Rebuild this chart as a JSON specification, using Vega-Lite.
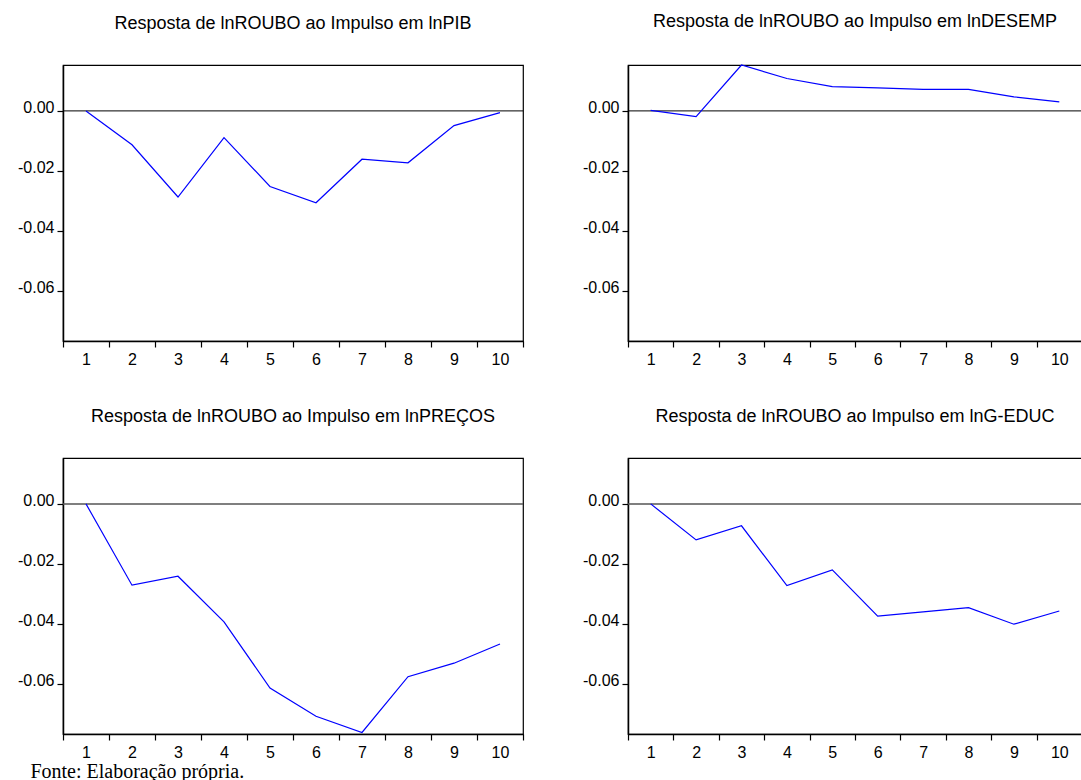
{
  "$schema": "https://vega.github.io/schema/vega-lite/v6.json",
  "usermeta": {"embedOptions": {"actions": false}},
  "background": "white",
  "padding": {"left": 12, "top": 12, "right": 0, "bottom": 0},
  "config": {
    "font": "Liberation Sans",
    "view": {"stroke": "black", "strokeWidth": 1.2},
    "axis": {"labelFont": "Liberation Sans", "labelFontSize": 16, "labelColor": "black", "domainColor": "black", "domainWidth": 1.5, "tickColor": "black", "tickWidth": 1.2, "tickSize": 6, "grid": false, "title": null},
    "title": {"font": "Liberation Sans", "fontSize": 18, "fontWeight": "normal", "color": "black", "offset": 32}
  },
  "datasets": {
    "irf": [
      {"shock": "lnPIB", "period": 1, "response": 0.0},
      {"shock": "lnPIB", "period": 2, "response": -0.0113},
      {"shock": "lnPIB", "period": 3, "response": -0.0287},
      {"shock": "lnPIB", "period": 4, "response": -0.0089},
      {"shock": "lnPIB", "period": 5, "response": -0.0252},
      {"shock": "lnPIB", "period": 6, "response": -0.0306},
      {"shock": "lnPIB", "period": 7, "response": -0.0161},
      {"shock": "lnPIB", "period": 8, "response": -0.0173},
      {"shock": "lnPIB", "period": 9, "response": -0.0049},
      {"shock": "lnPIB", "period": 10, "response": -0.0006},
      {"shock": "lnDESEMP", "period": 1, "response": 0.0002},
      {"shock": "lnDESEMP", "period": 2, "response": -0.0019},
      {"shock": "lnDESEMP", "period": 3, "response": 0.0153},
      {"shock": "lnDESEMP", "period": 4, "response": 0.0108},
      {"shock": "lnDESEMP", "period": 5, "response": 0.0081},
      {"shock": "lnDESEMP", "period": 6, "response": 0.0077},
      {"shock": "lnDESEMP", "period": 7, "response": 0.0072},
      {"shock": "lnDESEMP", "period": 8, "response": 0.0072},
      {"shock": "lnDESEMP", "period": 9, "response": 0.0047},
      {"shock": "lnDESEMP", "period": 10, "response": 0.0030},
      {"shock": "lnPREÇOS", "period": 1, "response": 0.0},
      {"shock": "lnPREÇOS", "period": 2, "response": -0.0271},
      {"shock": "lnPREÇOS", "period": 3, "response": -0.0241},
      {"shock": "lnPREÇOS", "period": 4, "response": -0.0393},
      {"shock": "lnPREÇOS", "period": 5, "response": -0.0614},
      {"shock": "lnPREÇOS", "period": 6, "response": -0.0708},
      {"shock": "lnPREÇOS", "period": 7, "response": -0.0762},
      {"shock": "lnPREÇOS", "period": 8, "response": -0.0576},
      {"shock": "lnPREÇOS", "period": 9, "response": -0.0531},
      {"shock": "lnPREÇOS", "period": 10, "response": -0.0467},
      {"shock": "lnG-EDUC", "period": 1, "response": 0.0},
      {"shock": "lnG-EDUC", "period": 2, "response": -0.0120},
      {"shock": "lnG-EDUC", "period": 3, "response": -0.0073},
      {"shock": "lnG-EDUC", "period": 4, "response": -0.0272},
      {"shock": "lnG-EDUC", "period": 5, "response": -0.0220},
      {"shock": "lnG-EDUC", "period": 6, "response": -0.0374},
      {"shock": "lnG-EDUC", "period": 7, "response": -0.0360},
      {"shock": "lnG-EDUC", "period": 8, "response": -0.0346},
      {"shock": "lnG-EDUC", "period": 9, "response": -0.0401},
      {"shock": "lnG-EDUC", "period": 10, "response": -0.0357}
    ]
  },
  "title": {"text": "Fonte: Elaboração própria.", "orient": "bottom", "anchor": "start", "font": "Liberation Serif", "fontSize": 20, "fontWeight": "normal", "dx": 18, "offset": -3},
  "spacing": 35,
  "vconcat": [
    {
      "spacing": 52,
      "hconcat": [
        {
          "width": 460, "height": 276,
          "title": "Resposta de lnROUBO ao Impulso em lnPIB",
          "layer": [
            {"data": {"values": [{"ref": 0}]}, "mark": {"type": "rule", "color": "black", "strokeWidth": 1}, "encoding": {"y": {"field": "ref", "type": "quantitative", "scale": {"domain": [-0.0767, 0.0153], "nice": false, "zero": false}, "axis": {"values": [0, -0.02, -0.04, -0.06], "labelExpr": "replace(format(datum.value, '.2f'), '\u2212', '-')", "labelBaseline": "alphabetic", "labelOffset": 2, "labelPadding": 3, "minExtent": 50, "maxExtent": 50}}}},
            {"data": {"name": "irf"}, "transform": [{"filter": "datum.shock == 'lnPIB'"}], "mark": {"type": "line", "color": "#0000ff", "strokeWidth": 1.2}, "encoding": {
              "x": {"field": "period", "type": "ordinal", "bandPosition": 0.5, "scale": {"type": "band", "paddingInner": 0, "paddingOuter": 0}, "axis": {"labelAngle": 0, "tickBand": "extent", "labelPadding": 4, "minExtent": 30, "maxExtent": 30}},
              "y": {"field": "response", "type": "quantitative", "scale": {"domain": [-0.0767, 0.0153], "nice": false, "zero": false}, "axis": {"values": [0, -0.02, -0.04, -0.06], "labelExpr": "replace(format(datum.value, '.2f'), '\u2212', '-')", "labelBaseline": "alphabetic", "labelOffset": 2, "labelPadding": 3, "minExtent": 50, "maxExtent": 50}}}}
          ]
        },
        {
          "width": 454, "height": 276,
          "title": "Resposta de lnROUBO ao Impulso em lnDESEMP",
          "layer": [
            {"data": {"values": [{"ref": 0}]}, "mark": {"type": "rule", "color": "black", "strokeWidth": 1}, "encoding": {"y": {"field": "ref", "type": "quantitative", "scale": {"domain": [-0.0767, 0.0153], "nice": false, "zero": false}, "axis": {"values": [0, -0.02, -0.04, -0.06], "labelExpr": "replace(format(datum.value, '.2f'), '\u2212', '-')", "labelBaseline": "alphabetic", "labelOffset": 2, "labelPadding": 3, "minExtent": 50, "maxExtent": 50}}}},
            {"data": {"name": "irf"}, "transform": [{"filter": "datum.shock == 'lnDESEMP'"}], "mark": {"type": "line", "color": "#0000ff", "strokeWidth": 1.2}, "encoding": {
              "x": {"field": "period", "type": "ordinal", "bandPosition": 0.5, "scale": {"type": "band", "paddingInner": 0, "paddingOuter": 0}, "axis": {"labelAngle": 0, "tickBand": "extent", "labelPadding": 4, "minExtent": 30, "maxExtent": 30}},
              "y": {"field": "response", "type": "quantitative", "scale": {"domain": [-0.0767, 0.0153], "nice": false, "zero": false}, "axis": {"values": [0, -0.02, -0.04, -0.06], "labelExpr": "replace(format(datum.value, '.2f'), '\u2212', '-')", "labelBaseline": "alphabetic", "labelOffset": 2, "labelPadding": 3, "minExtent": 50, "maxExtent": 50}}}}
          ]
        }
      ]
    },
    {
      "spacing": 52,
      "hconcat": [
        {
          "width": 460, "height": 276,
          "title": "Resposta de lnROUBO ao Impulso em lnPREÇOS",
          "layer": [
            {"data": {"values": [{"ref": 0}]}, "mark": {"type": "rule", "color": "#555555", "strokeWidth": 1.5}, "encoding": {"y": {"field": "ref", "type": "quantitative", "scale": {"domain": [-0.0767, 0.0153], "nice": false, "zero": false}, "axis": {"values": [0, -0.02, -0.04, -0.06], "labelExpr": "replace(format(datum.value, '.2f'), '\u2212', '-')", "labelBaseline": "alphabetic", "labelOffset": 2, "labelPadding": 3, "minExtent": 50, "maxExtent": 50}}}},
            {"data": {"name": "irf"}, "transform": [{"filter": "datum.shock == 'lnPREÇOS'"}], "mark": {"type": "line", "color": "#0000ff", "strokeWidth": 1.2}, "encoding": {
              "x": {"field": "period", "type": "ordinal", "bandPosition": 0.5, "scale": {"type": "band", "paddingInner": 0, "paddingOuter": 0}, "axis": {"labelAngle": 0, "tickBand": "extent", "labelPadding": 4, "minExtent": 30, "maxExtent": 30}},
              "y": {"field": "response", "type": "quantitative", "scale": {"domain": [-0.0767, 0.0153], "nice": false, "zero": false}, "axis": {"values": [0, -0.02, -0.04, -0.06], "labelExpr": "replace(format(datum.value, '.2f'), '\u2212', '-')", "labelBaseline": "alphabetic", "labelOffset": 2, "labelPadding": 3, "minExtent": 50, "maxExtent": 50}}}}
          ]
        },
        {
          "width": 454, "height": 276,
          "title": "Resposta de lnROUBO ao Impulso em lnG-EDUC",
          "layer": [
            {"data": {"values": [{"ref": 0}]}, "mark": {"type": "rule", "color": "#555555", "strokeWidth": 1.5}, "encoding": {"y": {"field": "ref", "type": "quantitative", "scale": {"domain": [-0.0767, 0.0153], "nice": false, "zero": false}, "axis": {"values": [0, -0.02, -0.04, -0.06], "labelExpr": "replace(format(datum.value, '.2f'), '\u2212', '-')", "labelBaseline": "alphabetic", "labelOffset": 2, "labelPadding": 3, "minExtent": 50, "maxExtent": 50}}}},
            {"data": {"name": "irf"}, "transform": [{"filter": "datum.shock == 'lnG-EDUC'"}], "mark": {"type": "line", "color": "#0000ff", "strokeWidth": 1.2}, "encoding": {
              "x": {"field": "period", "type": "ordinal", "bandPosition": 0.5, "scale": {"type": "band", "paddingInner": 0, "paddingOuter": 0}, "axis": {"labelAngle": 0, "tickBand": "extent", "labelPadding": 4, "minExtent": 30, "maxExtent": 30}},
              "y": {"field": "response", "type": "quantitative", "scale": {"domain": [-0.0767, 0.0153], "nice": false, "zero": false}, "axis": {"values": [0, -0.02, -0.04, -0.06], "labelExpr": "replace(format(datum.value, '.2f'), '\u2212', '-')", "labelBaseline": "alphabetic", "labelOffset": 2, "labelPadding": 3, "minExtent": 50, "maxExtent": 50}}}}
          ]
        }
      ]
    }
  ]
}
